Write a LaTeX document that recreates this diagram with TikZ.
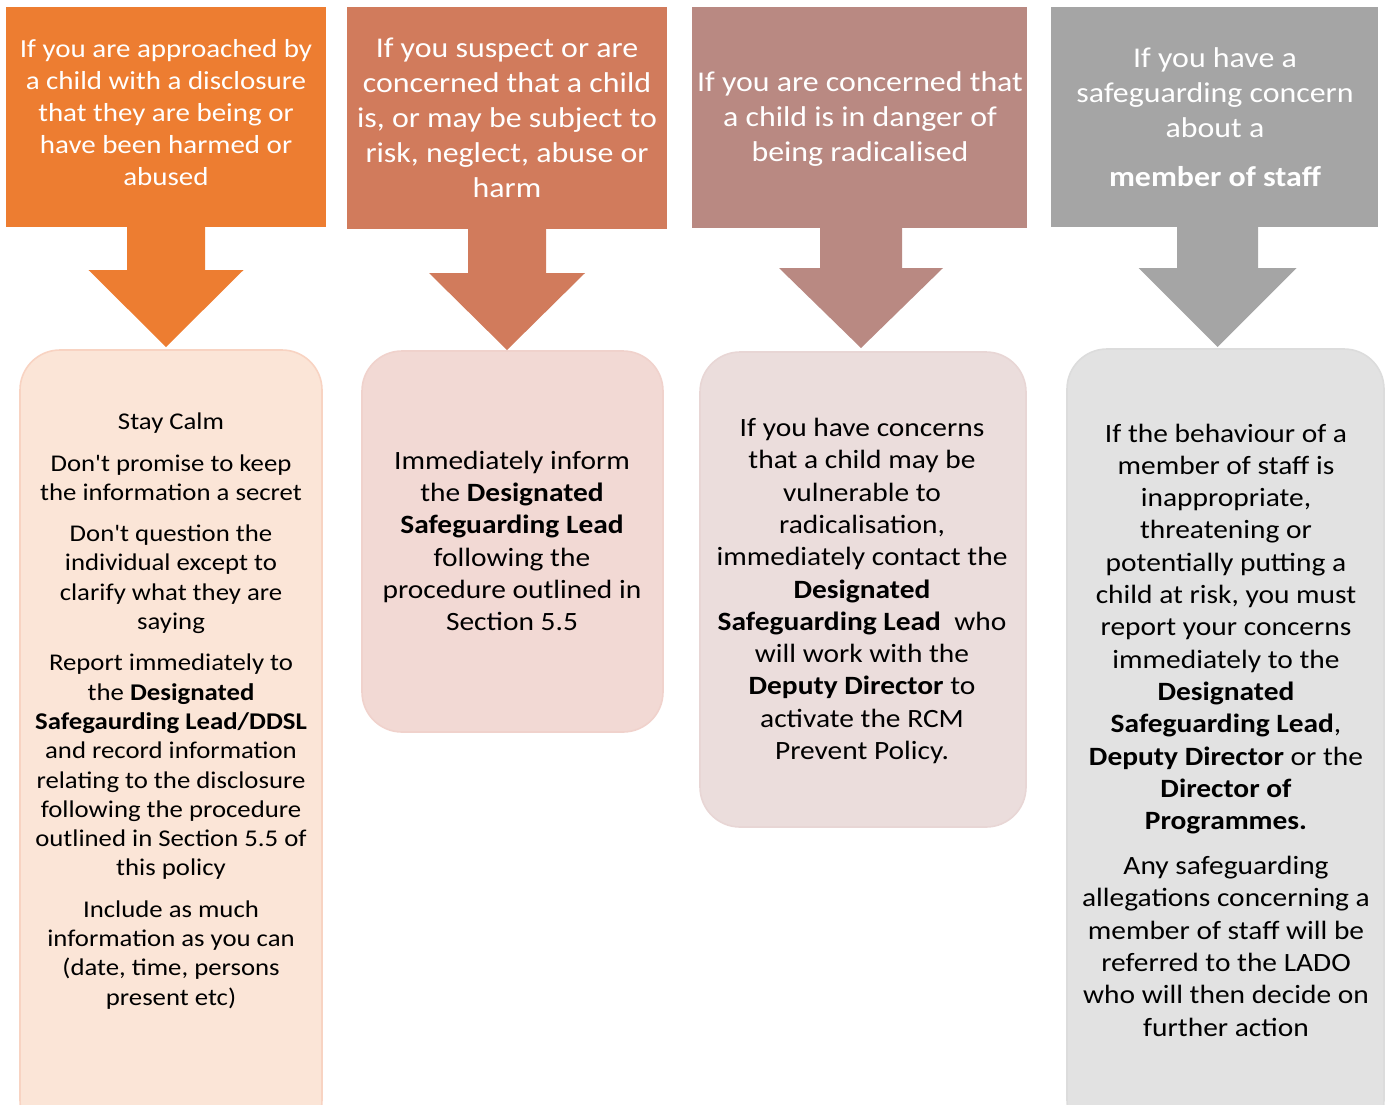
\documentclass[tikz,border=0pt]{standalone}
\usepackage{fontspec}
\setmainfont{Carlito}[FakeStretch=1.115]
\newfontfamily\aposfont{Carlito}[FakeStretch=1.115]
\usetikzlibrary{calc}
\definecolor{hdA}{HTML}{ED7D31}
\definecolor{hdB}{HTML}{D17B5C}
\definecolor{hdC}{HTML}{B98982}
\definecolor{hdD}{HTML}{A5A5A5}
\definecolor{bxA}{HTML}{FBE5D7}
\definecolor{bxB}{HTML}{F2D9D4}
\definecolor{bxC}{HTML}{EBDDDC}
\definecolor{bxD}{HTML}{E2E2E2}
\definecolor{edA}{HTML}{F8D3C2}
\definecolor{edB}{HTML}{F0D2CC}
\definecolor{edC}{HTML}{E8D6D5}
\definecolor{edD}{HTML}{DCDCDC}
% straight apostrophe (no TeX quote mapping)
\newcommand{\ap}{{\aposfont '}}
\begin{document}
\begin{tikzpicture}[x=0.5pt,y=-0.5pt,
  header/.style={rectangle, inner sep=0pt, outer sep=0pt, minimum height=110pt},
  panel/.style={rectangle, rounded corners=20pt, inner sep=0pt, outer sep=0pt, line width=0.8pt},
  headtext/.style={align=center, text=white, inner sep=0pt, font=\fontsize{14.3pt}{17.5pt}\selectfont},
  bodytext/.style={align=center, text=black, inner sep=0pt, font=\fontsize{13.2pt}{16.15pt}\selectfont}
]
\useasboundingbox (0,0) rectangle (1387,1104);
\clip (0,0) rectangle (1387,1104);

% header boxes
\node[header, fill=hdA, minimum width=160pt] (h1) at (166,117) {};
\node[header, fill=hdB, minimum width=160pt, minimum height=111pt] (h2) at (507,118) {};
\node[header, fill=hdC, minimum width=167.5pt, minimum height=110.5pt] (h3) at (859.5,117.5) {};
\node[header, fill=hdD, minimum width=163.5pt] (h4) at (1214.5,117) {};

% rounded panels
\node[panel, fill=bxA, draw=edA, minimum width=151pt, minimum height=395pt] (p1) at (171,745) {};
\node[panel, fill=bxB, draw=edB, minimum width=150.5pt, minimum height=190.5pt] (p2) at (512.5,541.5) {};
\node[panel, fill=bxC, draw=edC, minimum width=163pt, minimum height=237.5pt] (p3) at (863,589.5) {};
\node[panel, fill=bxD, draw=edD, minimum width=158.5pt, minimum height=395.5pt] (p4) at (1225.5,744.5) {};

% block arrows from each header down to its panel
% (header, colour, x offset, stem half width, head half width, stem length, total length)
\foreach \h/\c/\dx/\sw/\hw/\sl/\tl in {h1/hdA/0/39/77.5/43/120, h2/hdB/0/39/78/44/121, h3/hdC/1.5/41/82/40/120, h4/hdD/3/40.5/79/41/120}{
  \fill[\c] ($(\h.south)+(\dx-\sw,0)$) -- ($(\h.south)+(\dx+\sw,0)$)
    -- ($(\h.south)+(\dx+\sw,\sl)$) -- ($(\h.south)+(\dx+\hw,\sl)$)
    -- ($(\h.south)+(\dx,\tl)$) -- ($(\h.south)+(\dx-\hw,\sl)$)
    -- ($(\h.south)+(\dx-\sw,\sl)$) -- cycle;
}

% header texts
\node[headtext, font=\fontsize{13pt}{16pt}\selectfont] (t1) at (166,113) {If you are approached by\\a child with a disclosure\\that they are being or\\have been harmed or\\abused};
\node[headtext] (t2) at (507,118) {If you suspect or are\\concerned that a child\\is, or may be subject to\\risk, neglect, abuse or\\harm};
\node[headtext] (t3) at (860,119) {If you are concerned that\\a child is in danger of\\being radicalised};
\node[headtext] (t4) at (1215,117) {If you have a\\safeguarding concern\\about a\\[7pt]\textbf{member of staff}};

% panel texts
\node[bodytext, font=\fontsize{12pt}{14.65pt}\selectfont] (b1) at (171,711) {Stay Calm\\[6pt]
Don\ap t promise to keep\\the information a secret\\[6pt]
Don\ap t question the\\individual except to\\clarify what they are\\saying\\[6pt]
Report immediately to\\the \textbf{Designated}\\\textbf{Safegaurding Lead/DDSL}\\and record information\\relating to the disclosure\\following the procedure\\outlined in Section 5.5 of\\this policy\\[6pt]
Include as much\\information as you can\\(date, time, persons\\present etc)};

\node[bodytext] (b2) at (512,541) {Immediately inform\\the \textbf{Designated}\\\textbf{Safeguarding Lead}\\following the\\procedure outlined in\\Section 5.5};

\node[bodytext] (b3) at (862,591) {If you have concerns\\that a child may be\\vulnerable to\\radicalisation,\\immediately contact the\\\textbf{Designated}\\\textbf{Safeguarding Lead}\ \ who\\will work with the\\\textbf{Deputy Director} to\\activate the RCM\\Prevent Policy.};

\node[bodytext] (b4) at (1226,730) {If the behaviour of a\\member of staff is\\inappropriate,\\threatening or\\potentially putting a\\child at risk, you must\\report your concerns\\immediately to the\\\textbf{Designated}\\\textbf{Safeguarding Lead},\\\textbf{Deputy Director} or the\\\textbf{Director of}\\\textbf{Programmes.}\\[6.3pt]
Any safeguarding\\allegations concerning a\\member of staff will be\\referred to the LADO\\who will then decide on\\further action};
\end{tikzpicture}
\end{document}
